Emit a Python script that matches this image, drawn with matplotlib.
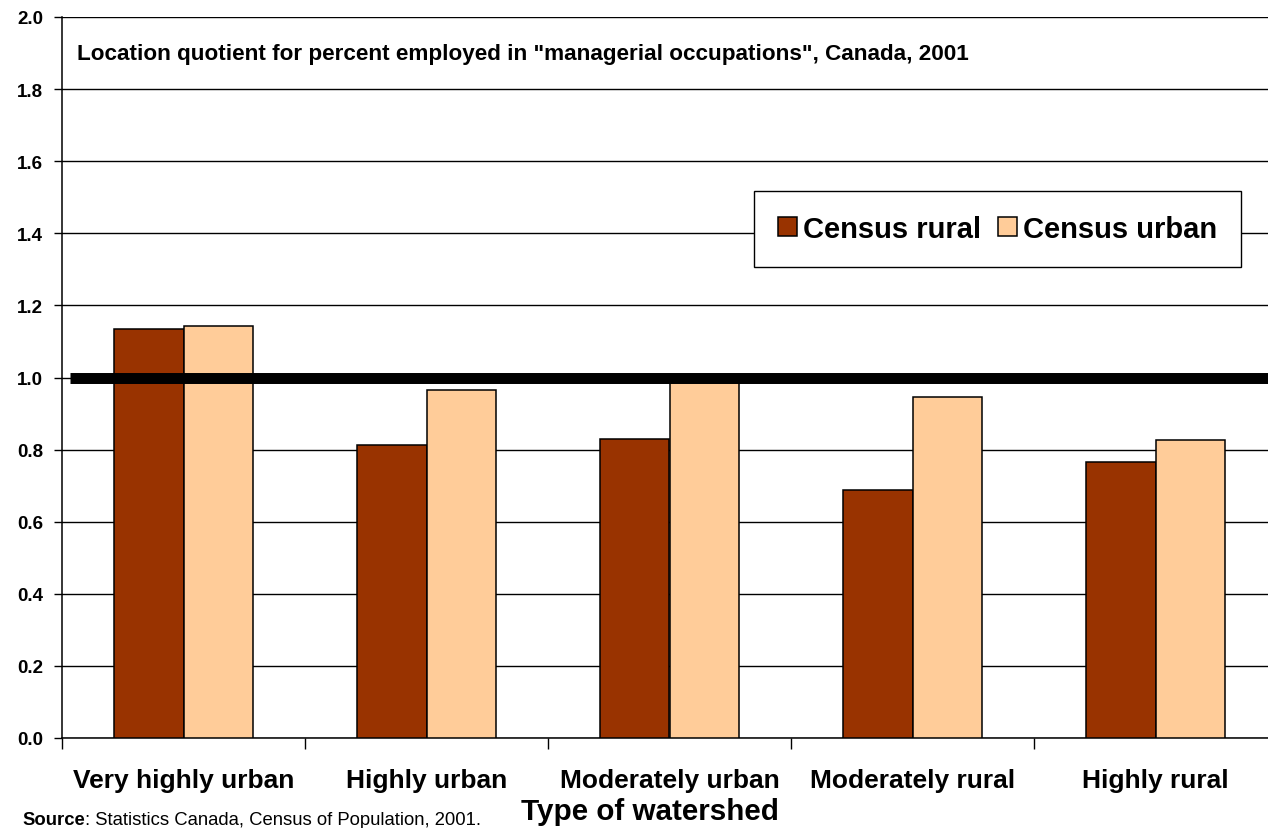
import matplotlib.pyplot as plt
import matplotlib.transforms as mtransforms
import numpy as np

plt.rcParams['font.family'] = ['Liberation Sans', 'DejaVu Sans']

# data
categories = ['Very highly urban', 'Highly urban', 'Moderately urban',
              'Moderately rural', 'Highly rural']
census_rural = [1.134, 0.813, 0.829, 0.688, 0.766]
census_urban = [1.143, 0.965, 0.99, 0.946, 0.827]
yticks = [0.0, 0.2, 0.4, 0.6, 0.8, 1.0, 1.2, 1.4, 1.6, 1.8, 2.0]
ref_level = 1.0

rural_color = '#993300'
urban_color = '#FFCC99'

W, H = 1268, 829
fig = plt.figure(figsize=(W / 100, H / 100), dpi=100)
# axes runs a bit past the right edge, like the original
ax = fig.add_axes([62 / W, (H - 739) / H, 1215 / W, 721 / H])

x = np.arange(len(categories))
bw = 0.285
ax.bar(x - bw / 2, census_rural, bw, color=rural_color, edgecolor='black',
       linewidth=1.1, label='Census rural', zorder=3)
ax.bar(x + bw / 2, census_urban, bw, color=urban_color, edgecolor='black',
       linewidth=1.1, label='Census urban', zorder=3)

# thick reference line at 1.0
ax.plot([-0.467, 4.5], [ref_level, ref_level], color='black', linewidth=7.9,
        zorder=4, solid_capstyle='butt')

ax.set_xlim(-0.5, 4.5)
ax.set_ylim(0, 2.0)
ax.set_yticks(yticks)
ax.set_yticklabels([f'{v:.1f}' for v in yticks], fontsize=13.5, fontweight='bold')
ax.yaxis.grid(True, color='black', linewidth=1.0, zorder=0)
ax.set_axisbelow(True)
ax.tick_params(axis='y', length=6, width=1, pad=7.5)

# ticks between the groups, labels under the groups
ax.set_xticks(np.arange(-0.5, 4.6, 1.0))
ax.set_xticklabels([])
ax.tick_params(axis='x', length=8, width=1, color='black')
lab_tr = mtransforms.blended_transform_factory(ax.transData, fig.transFigure)
for xi, name in zip(x, categories):
    ax.text(xi, (H - 788) / H, name, transform=lab_tr, fontsize=19,
            fontweight='bold', ha='center', va='baseline')

for s in ['top', 'right']:
    ax.spines[s].set_visible(False)
ax.spines['left'].set_linewidth(1.1)
ax.spines['bottom'].set_linewidth(1.1)

fig.text(77 / W, (H - 60) / H,
         'Location quotient for percent employed in "managerial occupations", Canada, 2001',
         fontsize=16.2, fontweight='bold', ha='left', va='baseline')

leg = ax.legend(loc='upper left', bbox_to_anchor=(754 / W, (H - 192) / H),
                bbox_transform=fig.transFigure, ncol=2, frameon=True,
                fancybox=False, edgecolor='black', framealpha=1,
                prop={'size': 21, 'weight': 'bold'}, handlelength=0.65,
                handleheight=0.65, handletextpad=0.2, columnspacing=0.6,
                borderpad=0.82, borderaxespad=0)
leg.get_frame().set_linewidth(1.0)

fig.text(650 / W, (H - 820) / H, 'Type of watershed', fontsize=21.3,
         fontweight='bold', ha='center', va='baseline')

# source line: bold word, then the rest right after it
src = fig.text(22 / W, (H - 825) / H, 'Source', fontsize=13.3,
               fontweight='bold', ha='left', va='baseline')
fig.add_artist(plt.Annotation(': Statistics Canada, Census of Population, 2001.',
                              xy=(1, 0), xycoords=src, fontsize=13.3,
                              ha='left', va='bottom'))

fig.savefig('out.png', dpi=100)
